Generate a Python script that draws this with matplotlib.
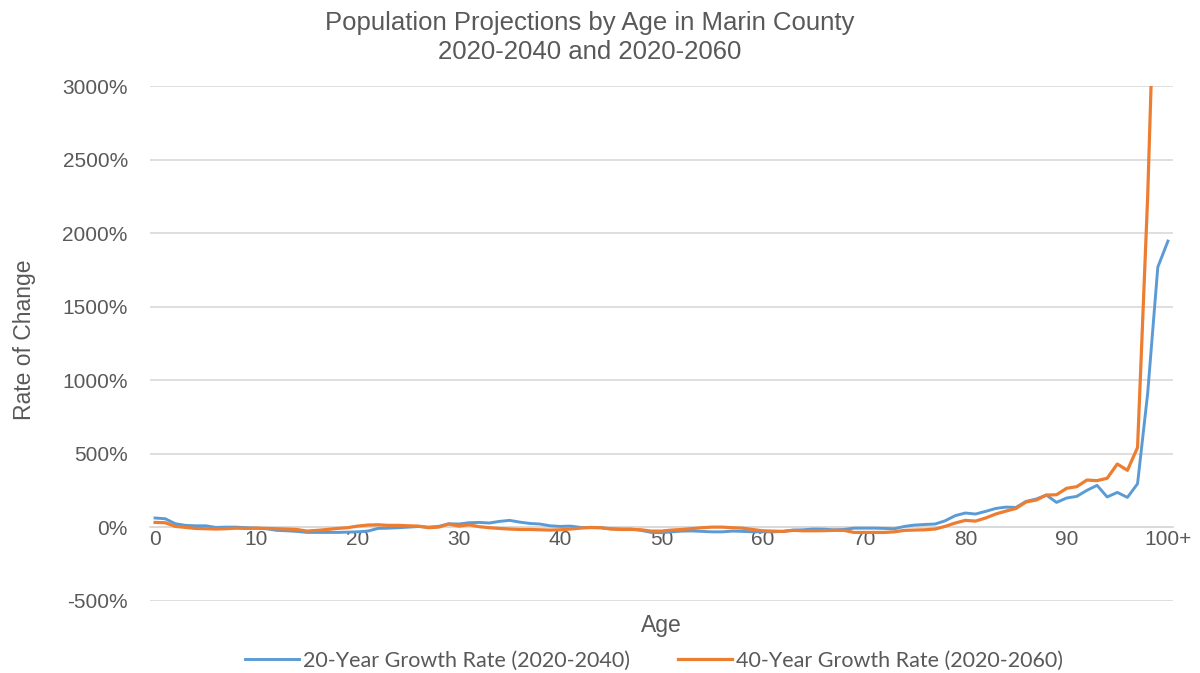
import numpy as np
import matplotlib
matplotlib.use("Agg")
from matplotlib import pyplot as plt
from matplotlib.ticker import FuncFormatter, MultipleLocator

# single years of age 0..99, last bucket is 100+
ages = list(range(101))
age_tick_pos = [0, 10, 20, 30, 40, 50, 60, 70, 80, 90, 100]
age_tick_labels = ['0', '10', '20', '30', '40', '50', '60', '70', '80', '90', '100+']

# percent change by age
growth_20yr = [64, 59, 25, 14, 11, 11, 0, 2, 2, -2,
               -5, -9, -20, -23, -27, -34, -34, -34, -34, -32,
               -30, -25, -7, -5, -2, 2, 6, 2, 7, 25,
               23, 32, 34, 30, 41, 48, 36, 27, 23, 11,
               7, 9, 0, -2, -2, -9, -11, -11, -20, -34,
               -36, -30, -25, -24, -27, -30, -30, -25, -27, -30,
               -30, -30, -27, -18, -16, -11, -12, -16, -14, -5,
               -5, -5, -7, -9, 7, 16, 20, 23, 45, 80,
               98, 91, 109, 129, 138, 136, 177, 193, 220, 170,
               200, 211, 252, 286, 207, 238, 204, 297, 912, 1769,
               1946]
growth_40yr = [34, 32, 7, 0, -7, -9, -11, -9, -5, -7,
               -5, -7, -9, -11, -14, -25, -20, -14, -7, -2,
               9, 16, 18, 14, 14, 11, 9, -2, 2, 23,
               9, 18, 5, -2, -7, -11, -14, -14, -16, -18,
               -16, -11, -5, 0, -2, -11, -14, -14, -16, -25,
               -25, -18, -14, -8, -2, 2, 2, -2, -5, -14,
               -23, -25, -27, -20, -23, -23, -22, -20, -20, -34,
               -34, -34, -34, -30, -20, -18, -16, -11, 7, 30,
               48, 43, 64, 91, 111, 129, 173, 186, 220, 222,
               266, 277, 322, 318, 334, 431, 388, 543, 2250, 4500,
               5200]

BLUE = '#5B9BD5'
ORANGE = '#ED7D31'
GREY_TXT = '#595959'
GRID = '#D9D9D9'

plt.rcParams['font.family'] = ['Liberation Sans', 'DejaVu Sans']

fig = plt.figure(figsize=(12, 6.73), dpi=100)
ax = fig.add_axes([0.125, 0.107, 0.8525, 0.7652])

ax.plot(ages, growth_20yr, color=BLUE, lw=2.1, label='20-Year Growth Rate (2020-2040)', zorder=3)
ax.plot(ages, growth_40yr, color=ORANGE, lw=2.3, label='40-Year Growth Rate (2020-2060)', zorder=4)

ax.set_xlim(-0.5, 100.5)
ax.set_ylim(-500, 3000)
ax.yaxis.set_major_locator(MultipleLocator(500))
ax.yaxis.set_major_formatter(FuncFormatter(lambda v, p: f'{v:.0f}%'))
ax.grid(axis='y', color=GRID, lw=1.2, zorder=0)

for side in ['top', 'right', 'left']:
    ax.spines[side].set_visible(False)
# category axis crosses at zero
ax.spines['bottom'].set_position(('data', 0))
ax.spines['bottom'].set_color(GRID)
ax.spines['bottom'].set_linewidth(1.2)

ax.set_xticks(age_tick_pos)
ax.set_xticklabels(age_tick_labels)
ax.tick_params(axis='both', length=0, labelsize=15, labelcolor=GREY_TXT)
ax.tick_params(axis='x', pad=2)
ax.tick_params(axis='y', pad=16)

ax.set_xlabel('Age', fontsize=16.5, color=GREY_TXT)
ax.xaxis.set_label_coords(0.5, -0.025)
ax.set_ylabel('Rate of Change', fontsize=16.5, color=GREY_TXT)
ax.yaxis.set_label_coords(-0.111, 0.507)

fig.text(0.4917, 0.983, 'Population Projections by Age in Marin County\n2020-2040 and 2020-2060',
         ha='center', va='top', fontsize=18.5, color=GREY_TXT, linespacing=1.24)

leg = fig.legend(loc='center', bbox_to_anchor=(0.545, 0.018), ncol=2, frameon=False,
                 handlelength=2.5, handletextpad=0.2, columnspacing=2.2,
                 prop={'family': 'Lato', 'size': 15.5})
for t in leg.get_texts():
    t.set_color(GREY_TXT)

fig.savefig('out.png', dpi=100)
